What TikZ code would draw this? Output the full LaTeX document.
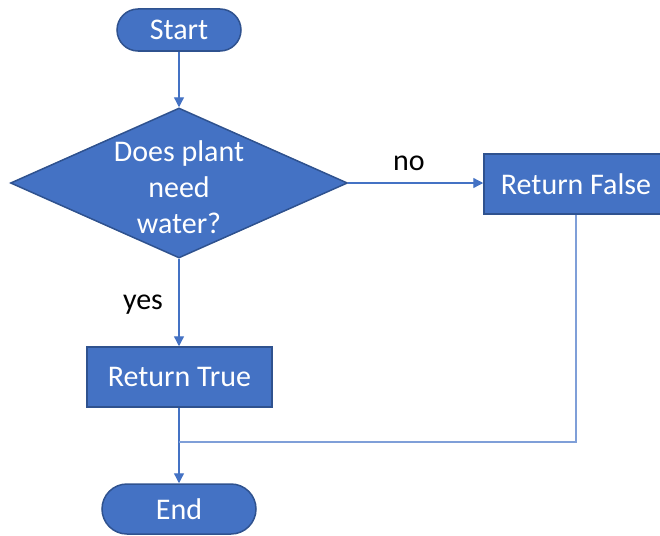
\documentclass[tikz,border=0pt]{standalone}
\usepackage{fontspec}
\setmainfont{Carlito}
\usetikzlibrary{shapes.geometric,shapes.misc,arrows.meta}
\definecolor{boxfill}{HTML}{4472C4}
\definecolor{boxedge}{HTML}{2F528F}
\definecolor{flow}{HTML}{4472C4}
\definecolor{flowlight}{HTML}{7F9FD8}
\tikzset{
  every node/.style={font=\fontsize{30}{36}\selectfont},
  shape base/.style={fill=boxfill, draw=boxedge, line width=1.5pt, text=white, inner sep=0pt},
  terminal/.style={shape base, rounded rectangle},
  process/.style={shape base, rectangle},
  decision/.style={shape base, diamond},
  caption/.style={text=black, inner sep=0pt},
  flowline/.style={draw=flow, line width=1.3pt},
  flowarrow/.style={flowline, -{Triangle[length=10pt,width=10pt]}},
}
\begin{document}
\begin{tikzpicture}[x=1pt,y=-1pt]
  \useasboundingbox (0,0) rectangle (660,535);
  \clip (0,0) rectangle (660,535);

  % shapes
  \node[terminal, minimum width=124pt, minimum height=42pt] (start) at (179,30) {Start};
  \node[decision, minimum width=337pt, minimum height=150pt,
        label={[text=white, align=center, inner sep=0pt, yshift=-4pt]center:Does plant\\need\\water?}]
        (q) at (179,183) {};
  \node[process, minimum width=184pt, minimum height=60pt] (rf) at (576,184) {Return False};
  \node[process, minimum width=185pt, minimum height=60pt] (rt) at (179.5,377) {Return True};
  \node[terminal, minimum width=154pt, minimum height=50pt] (end) at (179,509) {End};
  \coordinate (join) at (179,442);

  % connectors
  \draw[flowarrow] (start.south) -- (q.north);
  \draw[flowarrow] (q.east) -- (q.east -| rf.west);
  \draw[flowarrow] (q.south) -- (q.south |- rt.north);
  \draw[flowarrow] (rt.south -| end.north) -- (end.north);
  \draw[draw=flowlight, line width=1.5pt] (rf.south) |- (join);

  % branch labels
  \node[caption] (nolbl) at (409,163) {no};
  \node[caption] (yeslbl) at (143,305) {yes};
\end{tikzpicture}
\end{document}
